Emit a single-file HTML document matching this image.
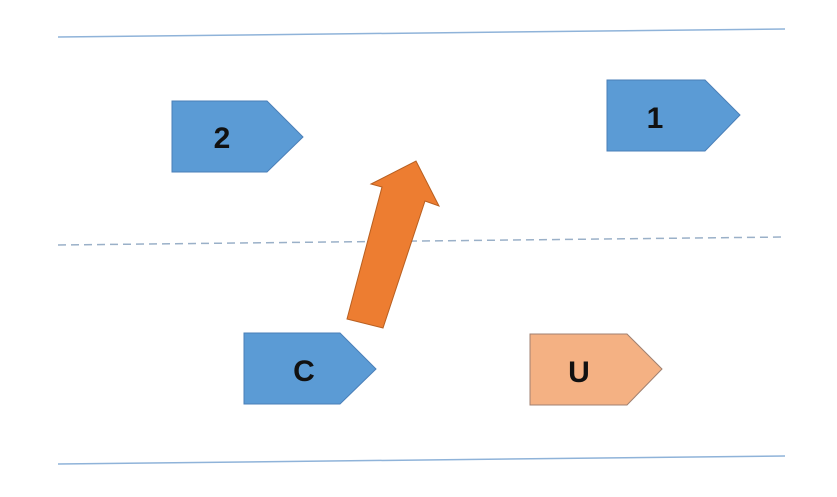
<!DOCTYPE html>
<html><head><style>html,body{margin:0;padding:0;background:#fff;}svg{display:block}</style></head>
<body>
<svg width="837" height="497" viewBox="0 0 837 497" xmlns="http://www.w3.org/2000/svg">
<line x1="58" y1="37" x2="785" y2="29" stroke="#8fb3d9" stroke-width="1.5"/>
<line x1="58" y1="245" x2="785" y2="237" stroke="#9ab0c8" stroke-width="1.5" stroke-dasharray="8,5"/>
<line x1="58" y1="464" x2="785" y2="456" stroke="#8fb3d9" stroke-width="1.5"/>
<g stroke="#4a7fb8" stroke-width="1" fill="#5b9bd5">
<polygon points="172,101 267,101 303,137 267,172 172,172"/>
<polygon points="607,80 705,80 740,115 705,151 607,151"/>
<polygon points="244,333 340,333 376,369 340,404 244,404"/>
</g>
<polygon points="530,334 627,334 662,369 627,405 530,405" fill="#f4b183" stroke="#a08070" stroke-width="1"/>
<polygon points="347,319 383,328 425,201 439,206 416,161 371,184 382,187" fill="#ed7d31" stroke="#b85f20" stroke-width="1"/>
<g font-family="'Liberation Sans',sans-serif" font-weight="bold" font-size="30" fill="#111" text-anchor="middle">
<text x="222" y="148">2</text>
<text x="655" y="128">1</text>
<text x="304" y="381">C</text>
<text x="579" y="382">U</text>
</g>
</svg>
</body></html>
